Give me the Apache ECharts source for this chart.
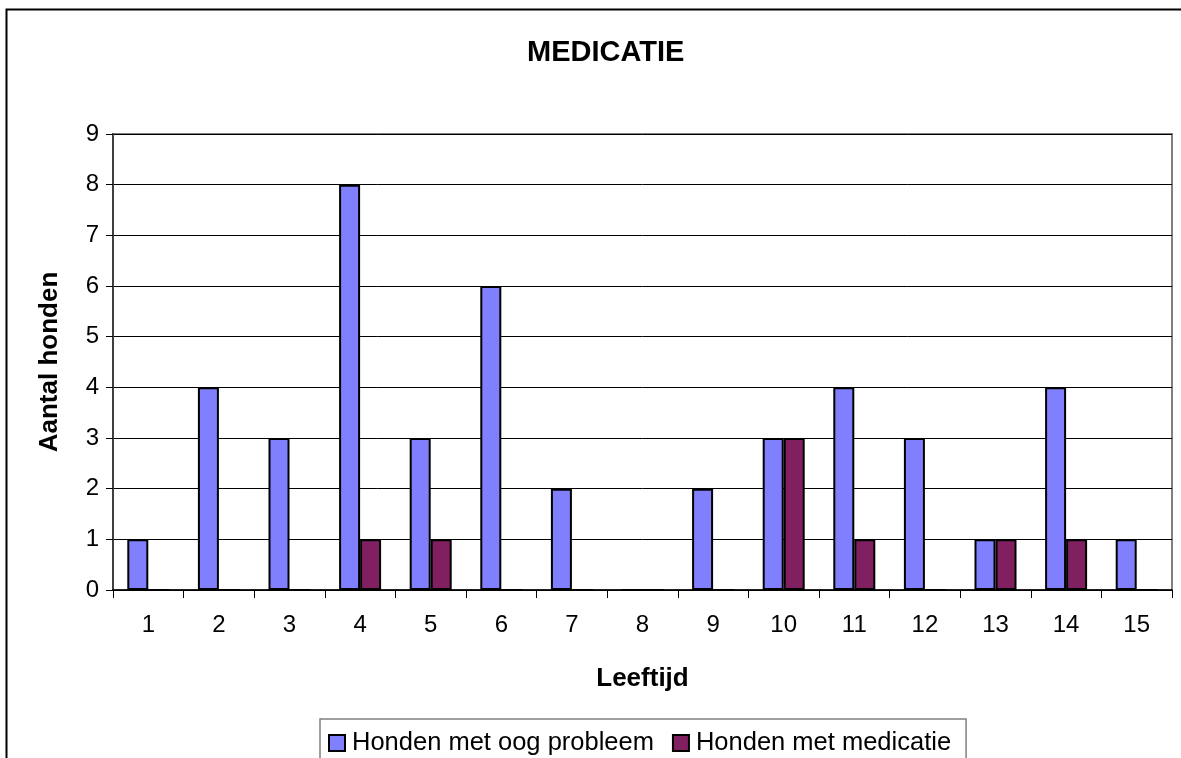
<!DOCTYPE html>
<html>
<head>
<meta charset="utf-8">
<script src="https://cdn.jsdelivr.net/npm/echarts@6/dist/echarts.min.js"></script>
<style>
  html, body { margin: 0; padding: 0; background: #fff; }
  #main { width: 1181px; height: 758px; }
</style>
</head>
<body>
<div id="main"></div>
<script>
const leeftijd = ["1", "2", "3", "4", "5", "6", "7", "8", "9", "10", "11", "12", "13", "14", "15"];
const oogProbleem = [1, 4, 3, 8, 3, 6, 2, 0, 2, 3, 4, 3, 1, 4, 1];
const medicatie = [0, 0, 0, 1, 1, 0, 0, 0, 0, 3, 1, 0, 1, 1, 0];

window.onload = function () {
  const myChart = echarts.init(document.getElementById("main"));
  const font = "Arial, 'Liberation Sans', sans-serif";

  const options = {
    backgroundColor: "#fff",
    animation: false,
    textStyle: { fontFamily: font },
    title: {
      text: "MEDICATIE",
      left: 522,
      top: 33,
      textStyle: { fontSize: 29, fontWeight: "bold", color: "#000", fontFamily: font }
    },
    graphic: [
      {
        type: "rect",
        shape: { x: 6.5, y: 9.5, width: 1400, height: 1000 },
        style: { fill: "none", stroke: "#000", lineWidth: 2 },
        silent: true,
        z: 100
      }
    ],
    legend: {
      left: 320,
      top: 719,
      orient: "horizontal",
      padding: [11, 15, 30, 8],
      itemGap: 18,
      itemWidth: 16,
      itemHeight: 16,
      borderColor: "#808080",
      borderWidth: 1.5,
      backgroundColor: "#fff",
      icon: "rect",
      textStyle: { fontSize: 25.5, color: "#000", fontFamily: font, padding: [0, 0, 0, 2] },
      data: ["Honden met oog probleem", "Honden met medicatie"]
    },
    grid: {
      left: 113,
      right: 9,
      top: 134,
      bottom: 168,
      show: true,
      borderColor: "#808080",
      borderWidth: 2,
      backgroundColor: "#fff"
    },
    xAxis: {
      type: "category",
      data: leeftijd,
      name: "Leeftijd",
      nameLocation: "middle",
      nameGap: 76,
      nameTextStyle: { fontSize: 26, fontWeight: "bold", color: "#000", fontFamily: font },
      axisLine: { lineStyle: { color: "#000", width: 1.5 } },
      axisTick: { show: true, length: 8, lineStyle: { color: "#000" } },
      axisLabel: { fontSize: 24, color: "#000", margin: 23, fontFamily: font },
      splitLine: { show: false }
    },
    yAxis: {
      type: "value",
      min: 0,
      max: 9,
      interval: 1,
      name: "Aantal honden",
      nameLocation: "middle",
      nameGap: 50,
      nameTextStyle: { fontSize: 26, fontWeight: "bold", color: "#000", fontFamily: font },
      axisLine: { show: true, lineStyle: { color: "#404040", width: 2 } },
      axisTick: { show: true, length: 7, lineStyle: { color: "#000" } },
      axisLabel: { fontSize: 24, color: "#000", margin: 14, fontFamily: font },
      splitLine: { show: true, lineStyle: { color: "#000", width: 1 } }
    },
    series: [
      {
        name: "Honden met oog probleem",
        type: "bar",
        data: oogProbleem,
        barWidth: 21,
        barGap: "0%",
        itemStyle: { color: "#8080FF", borderColor: "#000", borderWidth: 2 }
      },
      {
        name: "Honden met medicatie",
        type: "bar",
        data: medicatie,
        barWidth: 21,
        barGap: "0%",
        itemStyle: { color: "#802060", borderColor: "#000", borderWidth: 2 }
      }
    ]
  };

  myChart.setOption(options);
};
</script>
</body>
</html>
